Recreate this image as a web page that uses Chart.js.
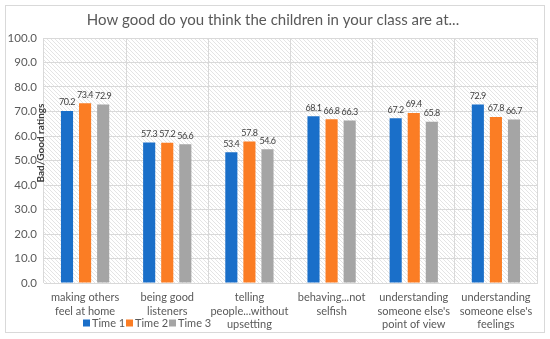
<!DOCTYPE html>
<html>
<head>
<meta charset="utf-8">
<script src="https://cdn.jsdelivr.net/npm/chart.js@4/dist/chart.umd.min.js"></script>
<style>
  html, body { margin: 0; padding: 0; background: #fff; }
  #wrap { position: relative; width: 550px; height: 339px; }
</style>
</head>
<body>
<div id="wrap"><canvas id="bar-chart" width="550" height="339"></canvas></div>
<script>
const categories = [
  ['making others', 'feel at home'],
  ['being good', 'listeners'],
  ['telling', 'people...without', 'upsetting'],
  ['behaving...not', 'selfish'],
  ['understanding', "someone else's", 'point of view'],
  ['understanding', "someone else's", 'feelings']
];
const seriesNames = ['Time 1', 'Time 2', 'Time 3'];
const time1 = [70.2, 57.3, 53.4, 68.1, 67.2, 72.9];
const time2 = [73.4, 57.2, 57.8, 66.8, 69.4, 67.8];
const time3 = [72.9, 56.6, 54.6, 66.3, 65.8, 66.7];
const colors = ['#1a6fc9', '#fb7d24', '#a5a5a5'];

const FONT = 'Lato, "Liberation Sans", sans-serif';

// hatched background for the plot area
function hatch() {
  const c = document.createElement('canvas');
  c.width = 4; c.height = 4;
  const g = c.getContext('2d');
  g.fillStyle = '#ffffff';
  g.fillRect(0, 0, 4, 4);
  g.strokeStyle = '#e4e4e4';
  g.lineWidth = 1;
  g.beginPath();
  g.moveTo(0, 0); g.lineTo(4, 4);
  g.moveTo(-1, 3); g.lineTo(1, 5);
  g.moveTo(3, -1); g.lineTo(5, 1);
  g.stroke();
  return g.createPattern(c, 'repeat');
}

const extras = {
  id: 'extras',
  beforeDraw(chart) {
    const { ctx, chartArea: a } = chart;
    ctx.save();
    ctx.fillStyle = hatch();
    ctx.fillRect(a.left, a.top, a.right - a.left, a.bottom - a.top);
    ctx.restore();
  },
  afterDraw(chart) {
    const ctx = chart.ctx;
    ctx.save();
    // outer frame
    ctx.strokeStyle = '#d9d9d9';
    ctx.lineWidth = 1;
    ctx.strokeRect(5.5, 5.5, 539, 327);

    // title
    ctx.fillStyle = '#595959';
    ctx.font = '15px ' + FONT;
    ctx.textAlign = 'center';
    ctx.textBaseline = 'middle';
    ctx.fillText('How good do you think the children in your class are at...', 273, 20);

    // y axis title
    ctx.save();
    ctx.translate(41, 143);
    ctx.rotate(-Math.PI / 2);
    ctx.fillStyle = '#404040';
    ctx.font = 'bold 10px ' + FONT;
    ctx.fillText('Bad/Good ratings', 0, 0);
    ctx.restore();

    // value labels
    ctx.font = '9px ' + FONT;
    ctx.letterSpacing = '-0.4px';
    ctx.fillStyle = '#404040';
    ctx.textBaseline = 'bottom';
    chart.data.datasets.forEach((ds, i) => {
      chart.getDatasetMeta(i).data.forEach((bar, j) => {
        ctx.fillText(ds.data[j].toFixed(1), bar.x, bar.y - 4);
      });
    });
    ctx.letterSpacing = '0px';

    // legend
    ctx.font = '11px ' + FONT;
    ctx.textAlign = 'left';
    ctx.textBaseline = 'middle';
    let x = 83;
    const y = 323;
    seriesNames.forEach((name, i) => {
      ctx.fillStyle = colors[i];
      ctx.fillRect(x, y - 3.5, 7, 7);
      ctx.fillStyle = '#595959';
      ctx.fillText(name, x + 9, y);
      x += 43;
    });
    ctx.restore();
  }
};

new Chart(document.getElementById('bar-chart'), {
  type: 'bar',
  data: {
    labels: categories,
    datasets: seriesNames.map((name, i) => ({
      label: name,
      data: [time1, time2, time3][i],
      backgroundColor: colors[i],
      categoryPercentage: 0.66,
      barPercentage: 0.67
    }))
  },
  options: {
    responsive: false,
    animation: false,
    devicePixelRatio: 1,
    layout: { padding: { top: 38, right: 13, bottom: 0, left: 0 } },
    plugins: { legend: { display: false }, tooltip: { enabled: false } },
    scales: {
      x: {
        grid: { color: '#d9d9d9', offset: true, drawTicks: false },
        border: { color: '#d9d9d9' },
        ticks: {
          color: '#595959',
          font: { family: FONT, size: 11, lineHeight: '13.5px' },
          padding: 8, maxRotation: 0, autoSkip: false
        },
        afterFit(scale) { scale.height = 56; }
      },
      y: {
        min: 0, max: 100,
        grid: { color: '#d9d9d9', drawTicks: false },
        border: { display: false },
        ticks: {
          stepSize: 10,
          color: '#595959',
          font: { family: FONT, size: 11.5 },
          padding: 7,
          callback: v => v.toFixed(1)
        },
        afterFit(scale) { scale.width = 44; }
      }
    }
  },
  plugins: [extras]
});
</script>
</body>
</html>
